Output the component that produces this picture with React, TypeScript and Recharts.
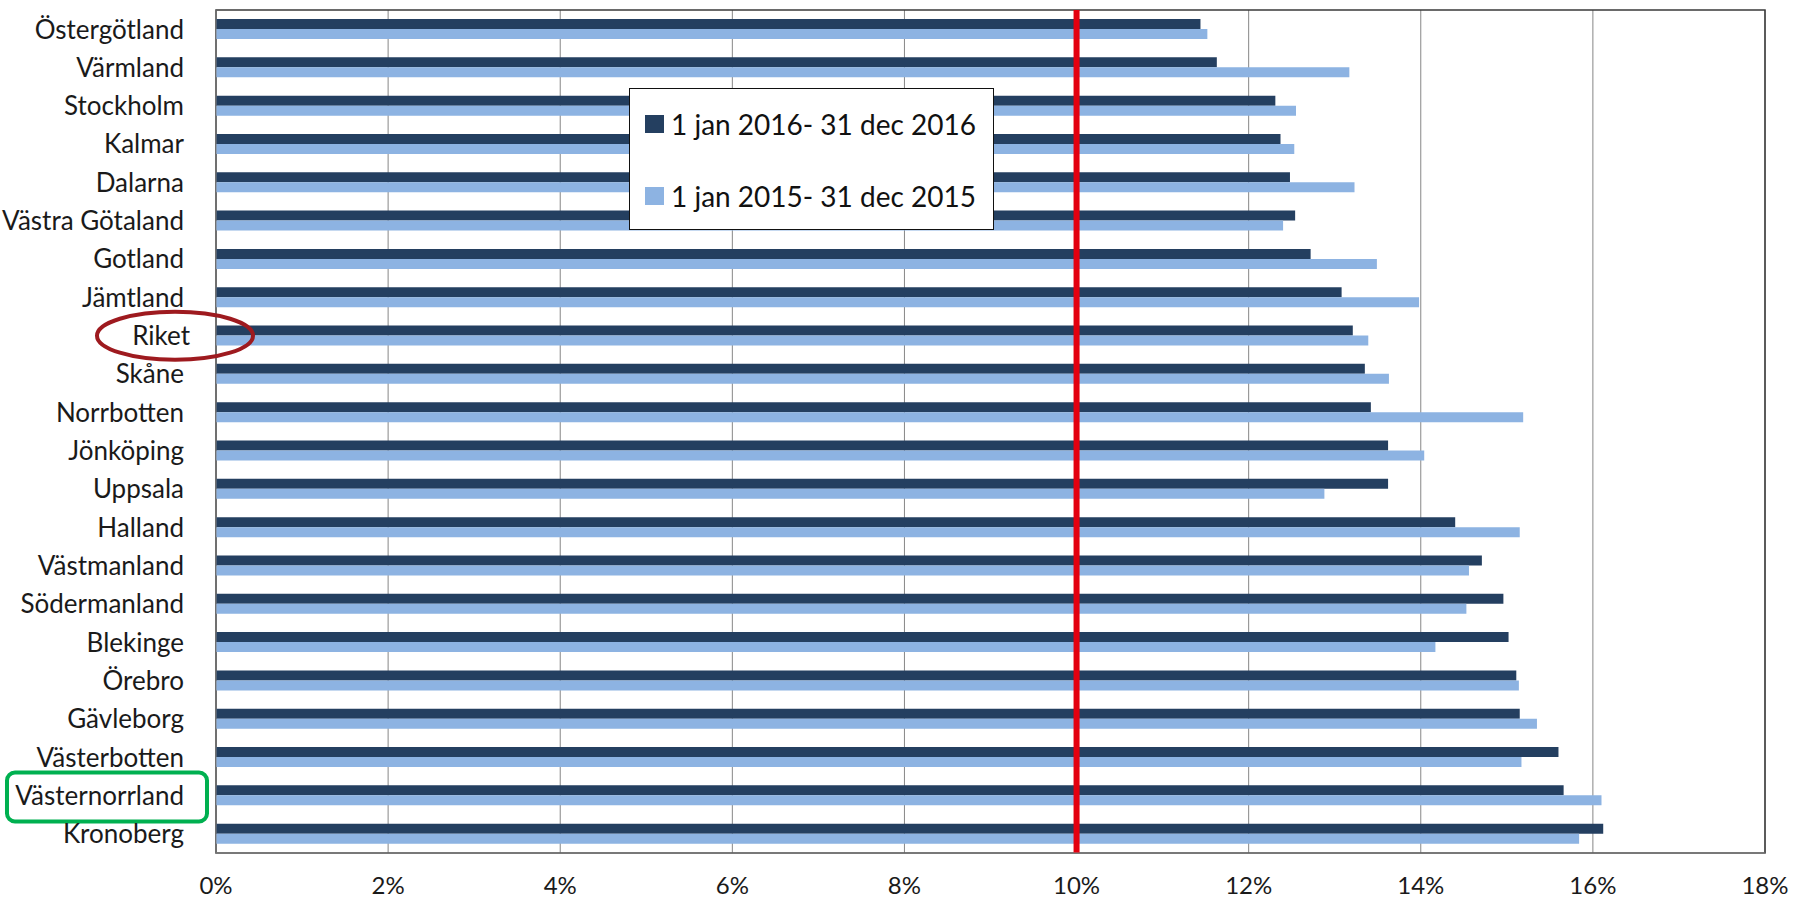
import React from "react";
import { BarChart, Bar, XAxis, YAxis, CartesianGrid, ReferenceLine, ReferenceArea, Legend } from "recharts";

const regions = [
  "Östergötland", "Värmland", "Stockholm", "Kalmar", "Dalarna", "Västra Götaland",
  "Gotland", "Jämtland", "Riket", "Skåne", "Norrbotten", "Jönköping", "Uppsala",
  "Halland", "Västmanland", "Södermanland", "Blekinge", "Örebro", "Gävleborg",
  "Västerbotten", "Västernorrland", "Kronoberg",
];

// andel per län, 2016 resp. 2015
const rate2016 = [
  0.1144, 0.1163, 0.1231, 0.1237, 0.1248, 0.1254, 0.1272, 0.1308, 0.1321, 0.1335, 0.1342,
  0.1362, 0.1362, 0.1440, 0.1471, 0.1496, 0.1502, 0.1511, 0.1515, 0.1560, 0.1566, 0.1612,
];
const rate2015 = [
  0.1152, 0.1317, 0.1255, 0.1253, 0.1323, 0.1240, 0.1349, 0.1398, 0.1339, 0.1363, 0.1519,
  0.1404, 0.1288, 0.1515, 0.1456, 0.1453, 0.1417, 0.1514, 0.1535, 0.1517, 0.1610, 0.1584,
];

const seriesNames = ["1 jan 2016- 31 dec 2016", "1 jan 2015- 31 dec 2015"];
const xTicks = [0, 0.02, 0.04, 0.06, 0.08, 0.1, 0.12, 0.14, 0.16, 0.18];
const targetRate = 0.1;
const nationalRegion = "Riket";
const highlightRegion = "Västernorrland";

const data = regions.map((region, i) => ({ region, y2016: rate2016[i], y2015: rate2015[i] }));

const FONT = "Lato, 'Open Sans', sans-serif";
const DARK = "#243F60";
const LIGHT = "#8DB3E2";

function RegionTick({ x, y, payload }: any) {
  const name = payload.value;
  const shift = name === nationalRegion ? 6 : 0;
  return (
    <g>
      {name === highlightRegion && (
        <rect x={x - 177} y={y - 23} width={200} height={49} rx={8} fill="none" stroke="#00B050" strokeWidth={4} />
      )}
      <text x={x + shift} y={y} dy="0.36em" textAnchor="end" fontSize={26} fill="#1a1a1a" fontFamily={FONT}>
        {name}
      </text>
      {name === nationalRegion && (
        <ellipse cx={x - 9} cy={y} rx={78} ry={24} fill="none" stroke="#9E1A1F" strokeWidth={4} />
      )}
    </g>
  );
}

function LegendBox({ payload }: any) {
  const items = [...(payload || [])].sort(
    (a: any, b: any) => seriesNames.indexOf(a.value) - seriesNames.indexOf(b.value)
  );
  return (
    <div
      style={{
        position: "relative",
        width: 365,
        height: 142,
        border: "1.5px solid #111",
        background: "#fff",
        boxSizing: "border-box",
        fontFamily: FONT,
      }}
    >
      {items.map((item: any, i: number) => (
        <div
          key={item.value}
          style={{
            position: "absolute",
            left: 15,
            top: 35 + i * 72 - 18,
            height: 36,
            display: "flex",
            alignItems: "center",
            whiteSpace: "nowrap",
          }}
        >
          <span style={{ width: 19, height: 18, background: item.color, display: "inline-block", marginRight: 7 }} />
          <span style={{ fontSize: 28, color: "#111" }}>{item.value}</span>
        </div>
      ))}
    </div>
  );
}

export default function App() {
  return (
    <div style={{ width: 1793, height: 900, background: "#fff" }}>
      <style>{"body{margin:0}"}</style>
      <BarChart
        width={1793}
        height={900}
        data={data}
        layout="vertical"
        margin={{ top: 10, right: 28, bottom: 0, left: 0 }}
        barSize={10}
        barGap={0}
        style={{ fontFamily: FONT }}
      >
        <CartesianGrid horizontal={false} stroke="#868686" strokeWidth={1} />
        <XAxis
          type="number"
          domain={[0, 0.18]}
          ticks={xTicks}
          tickFormatter={(v: number) => `${Math.round(v * 100)}%`}
          tickLine={false}
          tickSize={0}
          tickMargin={24}
          height={47}
          axisLine={{ stroke: "#868686" }}
          tick={{ fontSize: 24, fill: "#1a1a1a", fontFamily: FONT }}
        />
        <YAxis
          type="category"
          dataKey="region"
          width={216}
          tickLine={false}
          tickSize={0}
          tickMargin={32}
          axisLine={{ stroke: "#868686" }}
          interval={0}
          tick={<RegionTick />}
        />
        <Legend
          layout="vertical"
          align="center"
          verticalAlign="middle"
          wrapperStyle={{ left: 629, top: 88, width: 365, height: 142 }}
          content={<LegendBox />}
        />
        <Bar dataKey="y2016" name={seriesNames[0]} fill={DARK} isAnimationActive={false} />
        <Bar dataKey="y2015" name={seriesNames[1]} fill={LIGHT} isAnimationActive={false} />
        <ReferenceArea x1={0} x2={0.18} fill="none" stroke="#3a3a3a" strokeWidth={1.5} />
        <ReferenceLine x={targetRate} stroke="#E3000F" strokeWidth={6} />
      </BarChart>
    </div>
  );
}
